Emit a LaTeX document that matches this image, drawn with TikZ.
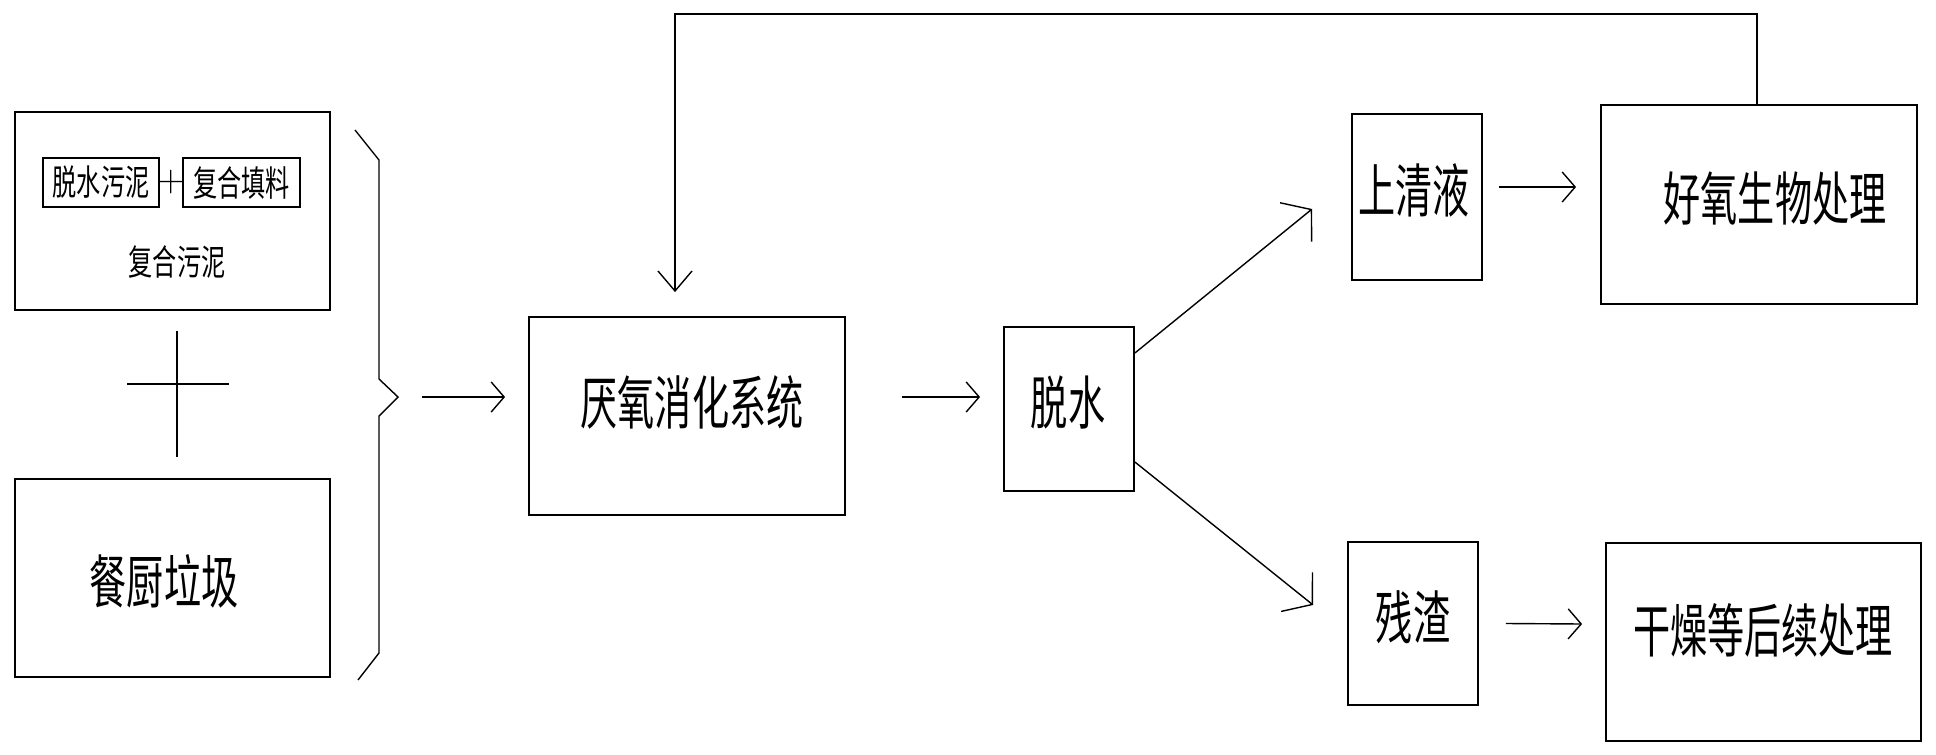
\documentclass[tikz,border=0pt]{standalone}
\usepackage{fontspec}
\newfontfamily\cjk[FakeStretch=0.64]{Noto Sans CJK SC}
\newfontfamily\cjks[FakeStretch=0.68]{Noto Sans CJK SC}
\usetikzlibrary{arrows.meta}
\tikzset{
  box/.style={draw, line width=1.8pt, inner sep=0pt},
  bigtxt/.style={font=\cjk\fontsize{58}{58}\selectfont, inner sep=0pt},
  smalltxt/.style={font=\cjks\fontsize{35.5}{35.5}\selectfont},
  plainline/.style={line width=1.4pt},
  harr/.style={line width=1.4pt, -{Straight Barb[length=13pt,width=30pt]}},
  varr/.style={line width=1.4pt, -{Straight Barb[length=20pt,width=34pt]}},
  darr/.style={line width=1.4pt, -{Straight Barb[length=20pt,width=50pt]}},
}
\begin{document}
\begin{tikzpicture}[x=1pt,y=-1pt]
\useasboundingbox[fill=white] (0,0) rectangle (1936,755);

% left group
\node[box, minimum width=315pt, minimum height=198pt] (fuhe) at (172.5,211) {};
\node[box, smalltxt, minimum width=116pt, minimum height=49pt, inner sep=0pt] (tuoshuiwn) at (101,182.5) {脱水污泥};
\node[box, smalltxt, minimum width=117pt, minimum height=49pt, inner sep=0pt] (tianliao) at (241.5,182.5) {复合填料};
\node[font=\fontsize{38}{38}\selectfont, inner sep=0pt] (plus) at (171,182) {+};
\node[smalltxt, inner sep=0pt] (fuhetxt) at (177,262) {复合污泥};

\draw[plainline] (177,331) -- (177,457);
\draw[plainline] (127,384) -- (229,384);

\node[box, minimum width=315pt, minimum height=198pt] (canchu) at (172.5,578) {};
\node[bigtxt] (canchutxt) at (164,581) {餐厨垃圾};

% brace
\coordinate (btip) at (398,397);
\draw[plainline] (355,130) -- (379,160) -- (379,379) -- (btip) -- (379,416) -- (379,653) -- (358,680);

% anaerobic digestion
\node[box, minimum width=316pt, minimum height=198pt] (yanyang) at (687,416) {};
\node[bigtxt] (yanyangtxt) at (692,402) {厌氧消化系统};

\draw[harr] ([xshift=24pt]btip) -- ([xshift=-23pt,yshift=19pt]yanyang.west);

% dewatering
\node[box, minimum width=130pt, minimum height=164pt] (tuoshui) at (1069,409) {};
\node[bigtxt] (tuoshuitxt) at (1068,402) {脱水};

\draw[harr] ([xshift=56pt,yshift=19pt]yanyang.east) -- ([xshift=-23pt,yshift=12pt]tuoshui.west);

% supernatant
\node[box, minimum width=130pt, minimum height=166pt] (shangqing) at (1417,197) {};
\node[bigtxt] (shangqingtxt) at (1414,190) {上清液};

% residue
\node[box, minimum width=130pt, minimum height=163pt] (canzha) at (1413,623.5) {};
\node[bigtxt] (canzhatxt) at (1413,617) {残渣};

\draw[darr] ([yshift=56pt]tuoshui.east) -- ([xshift=-39pt,yshift=-12pt]shangqing.west);
\draw[darr] ([yshift=-53pt]tuoshui.east) -- ([xshift=-34pt,yshift=18.5pt]canzha.west);

% aerobic
\node[box, minimum width=316pt, minimum height=199pt] (haoyang) at (1759,204.5) {};
\node[bigtxt] (haoyangtxt) at (1775,198) {好氧生物处理};

% drying
\node[box, minimum width=315pt, minimum height=198pt] (ganzao) at (1763.5,642) {};
\node[bigtxt] (ganzaotxt) at (1763,630) {干燥等后续处理};

\draw[harr] ([xshift=16pt,yshift=10pt]shangqing.east) -- ([xshift=-24pt,yshift=17.5pt]haoyang.west);
\draw[harr] ([xshift=27pt]canzha.east) -- ([xshift=-23pt,yshift=18pt]ganzao.west);

% feedback
\draw[varr] ([xshift=-2pt]haoyang.north) -- ++(0,-90) -| ([xshift=-12pt,yshift=24pt]yanyang.north);
\end{tikzpicture}
\end{document}
